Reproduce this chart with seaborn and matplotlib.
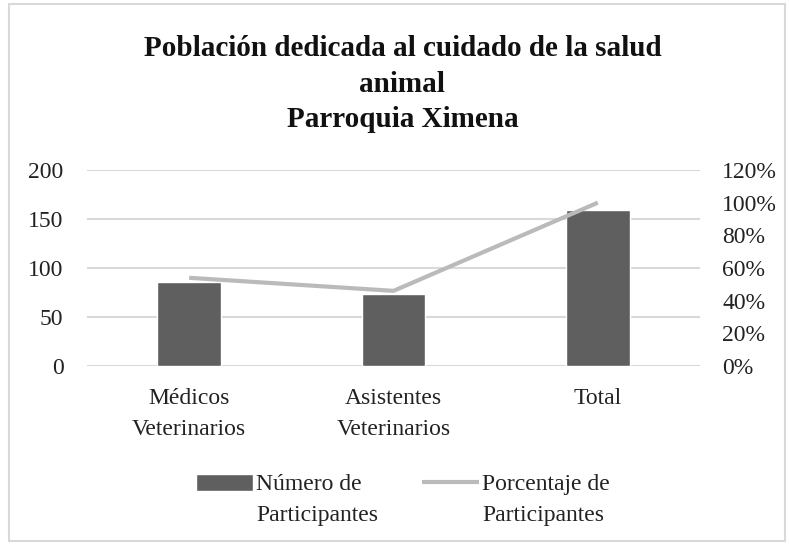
import matplotlib
matplotlib.use("Agg")
import matplotlib.pyplot as plt
import seaborn as sns
import pandas as pd
from matplotlib.patches import Rectangle
from matplotlib.ticker import FuncFormatter

categorias = ["Médicos\nVeterinarios", "Asistentes\nVeterinarios", "Total"]
numero = [86, 73, 159]
porcentaje = [54, 46, 100]
etiqueta_barras = "Número de\nParticipantes"
etiqueta_linea = "Porcentaje de\nParticipantes"
titulo = "Población dedicada al cuidado de la salud\nanimal\nParroquia Ximena"

sns.set_theme(style="white")
plt.rcParams["font.family"] = ["Liberation Serif", "DejaVu Serif"]

df = pd.DataFrame({"cat": categorias, "num": numero, "pct": porcentaje})

fig = plt.figure(figsize=(7.89, 5.45), dpi=100)
ax = fig.add_axes([87/789, 1-366/545, 613/789, 196/545])

BAR = "#5f5f5f"
LINE = "#bababa"
GRID = "#d9d9d9"
FS = 17
TXT = "#222222"

sns.barplot(data=df, x="cat", y="num", color=BAR, width=0.31, ax=ax,
            saturation=1, label=etiqueta_barras, zorder=2)
ax.set_ylim(0, 200)
ax.set_yticks([0, 50, 100, 150, 200])
ax.yaxis.grid(True, color=GRID, linewidth=1.5)
ax.set_axisbelow(True)
ax.set_xlabel("")
ax.set_ylabel("")
for s in ax.spines.values():
    s.set_visible(False)
ax.tick_params(axis="y", length=0, pad=17, labelsize=FS, labelcolor=TXT)
ax.tick_params(axis="x", length=0, pad=16, labelsize=FS, labelcolor=TXT)
for t in ax.get_xticklabels():
    t.set_linespacing(1.6)

ax2 = ax.twinx()
sns.pointplot(data=df, x="cat", y="pct", color=LINE, markers="", linestyles="-",
              ax=ax2, label=etiqueta_linea, linewidth=3)
for l in ax2.lines:
    l.set_linewidth(3)
    l.set_solid_capstyle("butt")
ax2.set_ylim(0, 120)
ax2.set_yticks([0, 20, 40, 60, 80, 100, 120])
ax2.yaxis.set_major_formatter(FuncFormatter(lambda v, p: f"{int(v)}%"))
ax2.set_ylabel("")
ax2.set_xlabel("")
for s in ax2.spines.values():
    s.set_visible(False)
ax2.tick_params(axis="y", length=0, pad=16, labelsize=FS, labelcolor=TXT)
ax2.grid(False)
ax.set_xlim(-0.5, 2.5)

fig.text(0.51, 1-84/545, titulo, ha="center", va="center", fontsize=21,
         fontweight="bold", color="#111111", linespacing=1.4)

h1, l1 = ax.get_legend_handles_labels()
h2, l2 = ax2.get_legend_handles_labels()
if ax2.get_legend():
    ax2.get_legend().remove()
if ax.get_legend():
    ax.get_legend().remove()
leg = fig.legend(h1 + h2, l1 + l2, ncol=2, loc="center", bbox_to_anchor=(0.511, 1-500/545),
                 frameon=False, fontsize=FS, handlelength=2.4, handletextpad=0.15,
                 columnspacing=1.85, labelcolor=TXT)
for t in leg.get_texts():
    t.set_linespacing(1.6)
for col in leg._legend_handle_box.get_children():
    for row in col.get_children():
        row.align = "top"

fig.patches.append(Rectangle((9/789, 4/545), 776/789, 537/545, transform=fig.transFigure,
                             fill=False, edgecolor=GRID, linewidth=1.5))

fig.savefig("out.png", dpi=100)
